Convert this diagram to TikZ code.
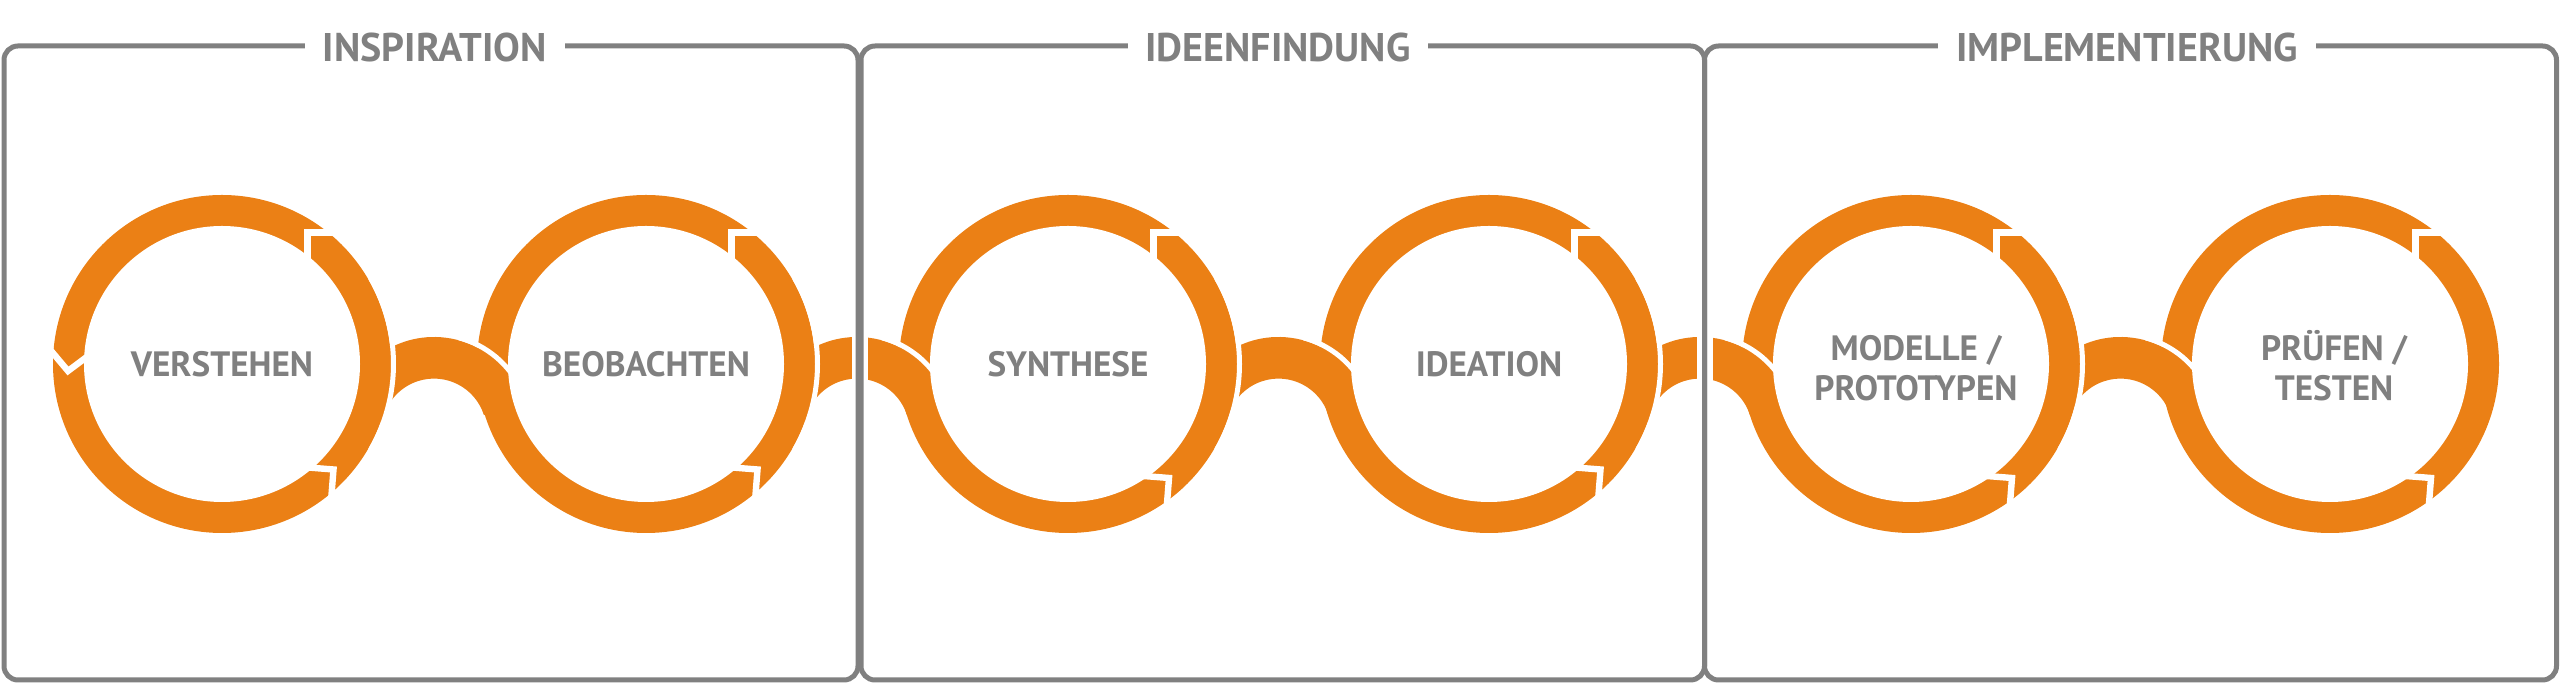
\documentclass[tikz,border=0pt]{standalone}
\usepackage{fontspec}
\setmainfont{PT Sans}
\definecolor{dtorange}{RGB}{235,128,21}
\definecolor{dtgray}{RGB}{128,128,128}

\begin{document}
\begin{tikzpicture}[x=0.25pt, y=0.25pt,
    panel/.style={draw=dtgray, line width=1.25pt, rounded corners=3.5pt},
    phase/.style={fill=white, text=dtgray, inner xsep=4.5pt, inner ysep=1pt, anchor=base,
      font=\bfseries\fontsize{10}{12}\selectfont},
    stage/.style={text=dtgray, align=center, anchor=base,
      font=\bfseries\fontsize{8.8}{10}\selectfont},
    gap/.style={draw=white, line width=1.6pt},
    seam/.style={draw=white, line width=1.25pt}]
  \useasboundingbox (0,0) rectangle (2560,684);

  \foreach \x [count=\i] in {222,646,1068,1489,1911,2330}
    \coordinate (c\i) at (\x,320);
  \foreach \x [count=\i] in {434,857,1278.5,1700,2120.5}
    \coordinate (m\i) at (\x,253);

  % bands from one circle to the next
  \foreach \i in {1,...,5}
    \fill[dtorange] (m\i) ++(170:94) arc[start angle=170, end angle=17.6, radius=94]
      -- ++(197.6:41.6) arc[start angle=17.6, end angle=170, radius=52.4] -- cycle;

  \foreach \i in {1,...,6} {
    \fill[dtorange] (c\i) circle[radius=169];
    \fill[white] (c\i) circle[radius=138];
  }

  \foreach \i in {1,...,5} {
    \draw[seam] (c\i) ++(-30:171.5) arc[start angle=-30, end angle=30, radius=171.5];
    \draw[seam] (m\i) ++(75:96.5) arc[start angle=75, end angle=25, radius=96.5];
  }

  % arrow cuts in the rings
  \foreach \i in {1,...,6}
    \draw[gap] (c\i) ++(85.3,95) -- ++(0,36.3) -- ++(45,0);
  \foreach \i/\bx/\by in {1/111.5/-105.5, 2/111.5/-105.5, 3/101/-114, 4/111.5/-105.5, 5/101/-114, 6/101/-114}
    \draw[gap] (c\i) ++(\bx,\by) ++(175.5:50) -- ++(-4.5:50) -- ++(265.5:50);
  \draw[gap] (c1) ++(-154,-7) ++(130:45) -- ++(-50:45) -- ++(36.8:45);

  \fill[white] (852,290) rectangle (868,360);
  \fill[white] (1697,290) rectangle (1713,360);

  \draw[panel] (4,4) rectangle (858,638);
  \draw[panel] (861,4) rectangle (1704.5,638);
  \draw[panel] (1704.5,4) rectangle (2556.5,638);

  \node[phase] (inspiration) at (435,622) {INSPIRATION};
  \node[phase] (ideenfindung) at (1278,622) {IDEENFINDUNG};
  \node[phase] (implementierung) at (2127,622) {IMPLEMENTIERUNG};

  \node[stage] (verstehen) at (222,307) {VERSTEHEN};
  \node[stage] (beobachten) at (646,307) {BEOBACHTEN};
  \node[stage] (synthese) at (1068,307) {SYNTHESE};
  \node[stage] (ideation) at (1489,307) {IDEATION};
  \node[stage] (modelle) at (1916,283) {MODELLE /\\PROTOTYPEN};
  \node[stage] (pruefen) at (2334,283) {PRÜFEN /\\TESTEN};
\end{tikzpicture}
\end{document}
